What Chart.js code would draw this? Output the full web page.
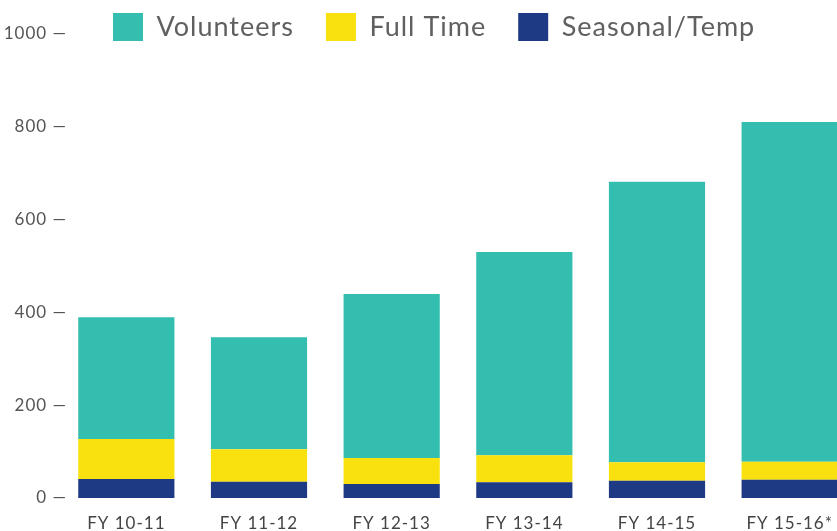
<!DOCTYPE html>
<html>
<head>
<meta charset="utf-8">
<script src="https://cdn.jsdelivr.net/npm/chart.js@4/dist/chart.umd.min.js"></script>
<style>
  html, body { margin: 0; padding: 0; background: #ffffff; overflow: hidden; }
  #wrap { position: relative; width: 856px; height: 531px; }
</style>
</head>
<body>
<div id="wrap"><canvas id="c"></canvas></div>
<script>
const categories = ['FY 10-11', 'FY 11-12', 'FY 12-13', 'FY 13-14', 'FY 14-15', 'FY 15-16*'];
const seasonalTemp = [41, 35, 30, 34, 37, 39];
const fullTime = [86, 70, 56, 58, 40, 39];
const volunteers = [262, 241, 353, 437, 603, 731];
const yTickValues = [0, 200, 400, 600, 800, 1000];

const FONT = 'Lato';

const spacing = {
  id: 'spacing',
  beforeUpdate(chart) { chart.ctx.letterSpacing = '1px'; },
  beforeDraw(chart) { chart.ctx.letterSpacing = '1px'; }
};

const legendPlace = {
  id: 'legendPlace',
  afterInit(chart) {
    const lg = chart.legend;
    const fit = lg.fit;
    lg.fit = function () { fit.call(this); this.height = 0; };
  },
  afterLayout(chart) {
    const lg = chart.legend;
    const pad = lg.options.labels.padding;
    const w = lg.width;
    lg.left = 113 - pad;
    lg.right = lg.left + w;
    lg.top = 13 - pad;
    lg.bottom = lg.top + 120;
  }
};

new Chart(document.getElementById('c'), {
  type: 'bar',
  data: {
    labels: categories,
    datasets: [
      { label: 'Seasonal/Temp', data: seasonalTemp, backgroundColor: '#1F3A85' },
      { label: 'Full Time', data: fullTime, backgroundColor: '#F8E10E' },
      { label: 'Volunteers', data: volunteers, backgroundColor: '#33BEAF' }
    ]
  },
  options: {
    responsive: true,
    maintainAspectRatio: false,
    animation: false,
    layout: { padding: { top: 8, left: 0, right: 0, bottom: 0 } },
    datasets: { bar: { categoryPercentage: 1, barPercentage: 0.725, borderWidth: 0 } },
    plugins: {
      tooltip: { enabled: false },
      legend: {
        position: 'top',
        align: 'start',
        reverse: true,
        labels: {
          boxWidth: 30,
          boxHeight: 28,
          padding: 32,
          color: '#606060',
          font: { family: FONT, size: 27 }
        }
      }
    },
    scales: {
      x: {
        stacked: true,
        afterFit(scale) { scale.height = 33; },
        grid: { display: false, drawTicks: false },
        border: { display: false },
        ticks: {
          padding: 15,
          color: '#444444',
          font: { family: FONT, size: 17 }
        }
      },
      y: {
        stacked: true,
        min: 0,
        max: 1054,
        afterBuildTicks(scale) { scale.ticks = yTickValues.map(v => ({ value: v })); },
        afterFit(scale) {
          scale.width = 60;
          scale._computeLabelArea = function () { return undefined; };
        },
        grid: { display: false, drawTicks: false },
        border: { display: false },
        ticks: {
          padding: -7,
          color: '#555555',
          font: { family: FONT, size: 17 },
          callback: (v) => v + ' \u2014'
        }
      }
    }
  },
  plugins: [spacing, legendPlace]
});
</script>
</body>
</html>
